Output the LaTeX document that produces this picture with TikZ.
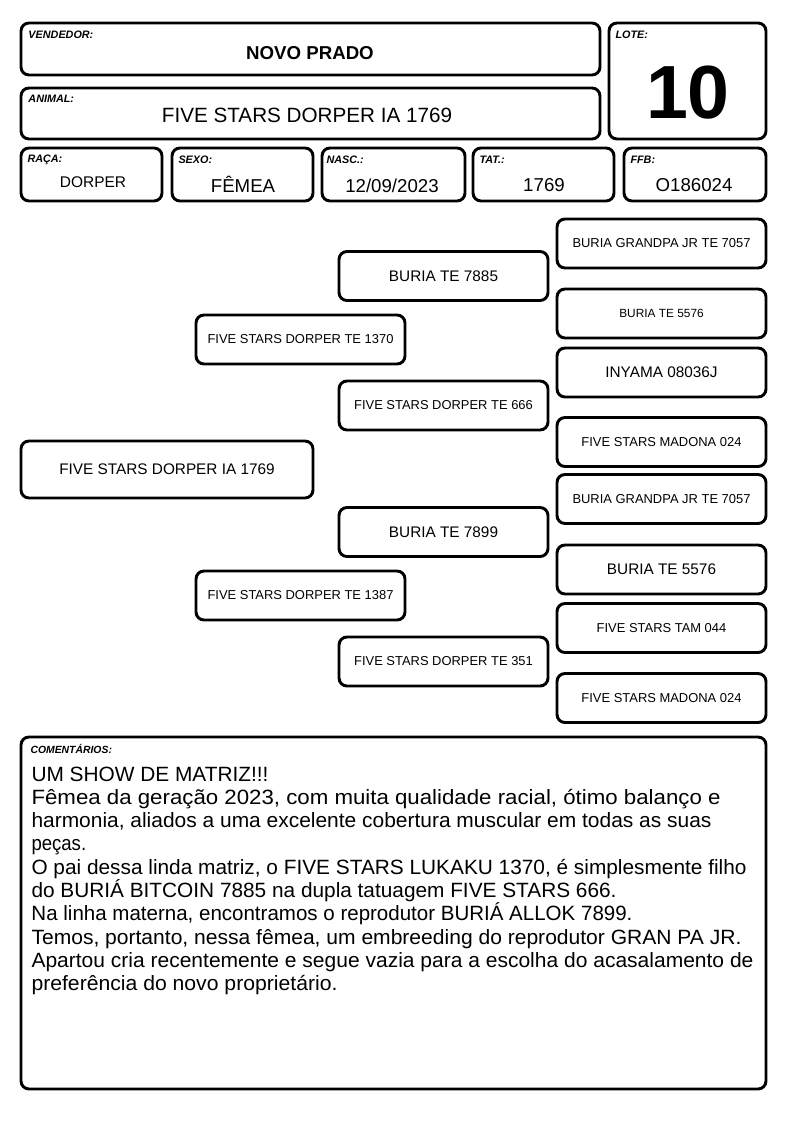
\documentclass[tikz,border=0pt]{standalone}
\usepackage{fontspec}
\setmainfont{Liberation Sans}
\usepackage{graphicx}

\tikzset{every picture/.style={line width=0.75pt}}
\tikzset{
  card/.style={draw, line width=2.2pt, rounded corners=6pt},
  tag/.style={anchor=base west, inner sep=0pt, font=\fontsize{8.1}{9}\selectfont\bfseries\itshape},
  value/.style={anchor=base, inner sep=0pt, font=\fontsize{14}{16}\selectfont},
  pedbox/.style={draw, line width=2.2pt, rounded corners=6pt, minimum width=156.75pt, minimum height=36.75pt, inner sep=0pt},
  pedsmall/.style={pedbox, font=\fontsize{9.7}{11}\selectfont},
  pedbig/.style={pedbox, font=\fontsize{11.5}{13}\selectfont},
  noteline/.style={anchor=base west, inner sep=0pt, font=\fontsize{15.5}{18}\selectfont},
}

\begin{document}
\begin{tikzpicture}[x=0.75pt,y=0.75pt,yscale=-1,xscale=1]
\useasboundingbox (0,0) rectangle (794,1123);

%Shape: header frames
\draw [card] (21,23) rectangle (600,75) ;
\draw [card] (21,88) rectangle (600,139) ;
\draw [card] (609,23) rectangle (766,139) ;
\draw [card] (21,148) rectangle (162,201) ;
\draw [card] (172,148) rectangle (313,201) ;
\draw [card] (322,148) rectangle (465,201) ;
\draw [card] (473,148) rectangle (614,201) ;
\draw [card] (624,148) rectangle (766,201) ;

% Text Node
\node [tag] (vendtag) at (28,39) {VENDEDOR:};
\node [value, font=\fontsize{14}{16}\selectfont\bfseries] (vend) at (310,60) {NOVO PRADO};
\node [tag] (animtag) at (28,103) {ANIMAL:};
\node [value, font=\fontsize{15.5}{18}\selectfont] (anim) at (307,123) {FIVE STARS DORPER IA 1769};
\node [tag] (lotetag) at (615,39) {LOTE:};
\node [value, font=\fontsize{56.5}{60}\selectfont\bfseries] (lote) at (688,119) {10};
\node [tag] (racatag) at (27,163) {RAÇA:};
\node [value, font=\fontsize{11.6}{13}\selectfont] (raca) at (93,188) {DORPER};
\node [tag] (sexotag) at (178,164) {SEXO:};
\node [value] (sexo) at (243,193) {FÊMEA};
\node [tag] (nasctag) at (326,164) {NASC.:};
\node [value] (nasc) at (392,193) {12/09/2023};
\node [tag] (tattag) at (479,164) {TAT.:};
\node [value] (tat) at (544,192) {1769};
\node [tag] (ffbtag) at (630,164) {FFB:};
\node [value] (ffb) at (694,192) {O186024};

%Pedigree: animal, parents
\node [pedbig, minimum width=219pt, minimum height=42.75pt] (animal) at (167,469.5) {FIVE STARS DORPER IA 1769};
\node [pedsmall] (sire) at (300.5,339.5) {FIVE STARS DORPER TE 1370};
\node [pedsmall] (dam) at (300.5,595.5) {FIVE STARS DORPER TE 1387};

%Pedigree: grandparents
\node [pedbig] (ss) at (443.5,276) {BURIA TE 7885};
\node [pedsmall] (sd) at (443.5,405.5) {FIVE STARS DORPER TE 666};
\node [pedbig] (ds) at (443.5,532) {BURIA TE 7899};
\node [pedsmall] (dd) at (443.5,661.5) {FIVE STARS DORPER TE 351};

%Pedigree: great-grandparents
\node [pedsmall] (sss) at (661.5,243.5) {BURIA GRANDPA JR TE 7057};
\node [pedsmall, font=\fontsize{8.9}{10}\selectfont] (ssd) at (661.5,313.5) {BURIA TE 5576};
\node [pedbig] (sds) at (661.5,372.5) {INYAMA 08036J};
\node [pedsmall] (sdd) at (661.5,442) {FIVE STARS MADONA 024};
\node [pedsmall] (dss) at (661.5,499) {BURIA GRANDPA JR TE 7057};
\node [pedbig] (dsd) at (661.5,569.5) {BURIA TE 5576};
\node [pedsmall] (dds) at (661.5,628) {FIVE STARS TAM 044};
\node [pedsmall] (ddd) at (661.5,698) {FIVE STARS MADONA 024};

%Shape: comments frame
\draw [card] (21,737) rectangle (766,1089) ;
\node [tag, font=\fontsize{7.8}{9}\selectfont\bfseries\itshape] (notetag) at (30,753) {COMENTÁRIOS:};

% Text Node
\node [noteline] (n1) at (31,781) {\resizebox{177.75pt}{\height}{UM SHOW DE MATRIZ!!!}};
\node [noteline] (n2) at (31,804.3) {\resizebox{516.75pt}{\height}{Fêmea da geração 2023, com muita qualidade racial, ótimo balanço e}};
\node [noteline] (n3) at (31,827.6) {\resizebox{510pt}{\height}{harmonia, aliados a uma excelente cobertura muscular em todas as suas}};
\node [noteline] (n4) at (31,850.9) {\resizebox{41pt}{\height}{peças.}};
\node [noteline] (n5) at (31,874.2) {\resizebox{536.25pt}{\height}{O pai dessa linda matriz, o FIVE STARS LUKAKU 1370, é simplesmente filho}};
\node [noteline] (n6) at (31,897.5) {\resizebox{438.75pt}{\height}{do BURIÁ BITCOIN 7885 na dupla tatuagem FIVE STARS 666.}};
\node [noteline] (n7) at (31,920.8) {\resizebox{450.75pt}{\height}{Na linha materna, encontramos o reprodutor BURIÁ ALLOK 7899.}};
\node [noteline] (n8) at (31,944.1) {\resizebox{532.5pt}{\height}{Temos, portanto, nessa fêmea, um embreeding do reprodutor GRAN PA JR.}};
\node [noteline] (n9) at (31,967.4) {\resizebox{541.5pt}{\height}{Apartou cria recentemente e segue vazia para a escolha do acasalamento de}};
\node [noteline] (n10) at (31,990.7) {\resizebox{229.5pt}{\height}{preferência do novo proprietário.}};

\end{tikzpicture}
\end{document}
